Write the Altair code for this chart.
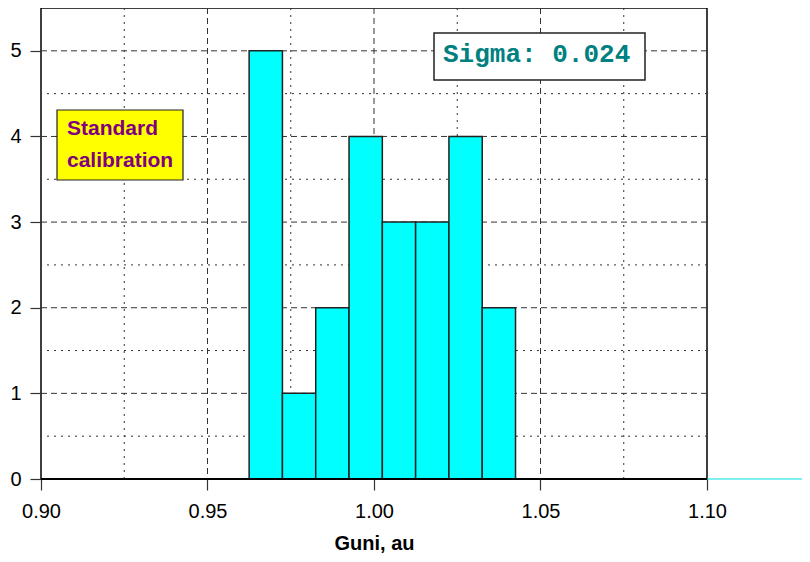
import altair as alt
import pandas as pd

# ---- data ----
bin_start = [0.9625, 0.9725, 0.9825, 0.9925, 1.0025, 1.0125, 1.0225, 1.0325]
bin_end = [0.9725, 0.9825, 0.9925, 1.0025, 1.0125, 1.0225, 1.0325, 1.0425]
counts = [5, 1, 2, 4, 3, 3, 4, 2]

x_ticks = [0.90, 0.95, 1.00, 1.05, 1.10]
x_major_grid = [0.95, 1.00, 1.05]
x_minor_grid = [0.925, 0.975, 1.025, 1.075]
y_ticks = [0, 1, 2, 3, 4, 5]
y_major_grid = [1, 2, 3, 4, 5]
y_minor_grid = [0.5, 1.5, 2.5, 3.5, 4.5]

label_box_text = ["Standard", "calibration"]
sigma_text = ["Sigma: 0.024"]
x_title = "Guni, au"

W, H = 666, 471
FONT = "Liberation Sans"

xs = alt.Scale(domain=[0.90, 1.10], nice=False, zero=False)
ys = alt.Scale(domain=[0, 5.5], nice=False)

x_axis = alt.Axis(values=x_ticks, format=".2f", grid=False, domain=False,
                  tickSize=11, tickColor="#333", tickWidth=1.2,
                  labelFontSize=20, labelFont=FONT, labelColor="#000",
                  labelPadding=11, labelFlush=False, titleFont=FONT, titleFontSize=20,
                  titleFontWeight="bold", titlePadding=12, titleColor="#000")
y_axis = alt.Axis(values=y_ticks, format="d", grid=False, domain=False,
                  tickSize=11, tickColor="#333", tickWidth=1.2,
                  labelFontSize=20, labelFont=FONT, labelColor="#000",
                  labelPadding=9, labelFlush=False)

bars_df = pd.DataFrame({"start": bin_start, "end": bin_end, "count": counts, "base": [0] * len(counts)})

grid_col = "#333333"


def xenc(field):
    return alt.X(field, scale=xs, axis=x_axis, title=x_title)


def yenc(field):
    return alt.Y(field, scale=ys, axis=y_axis, title=None)


vmaj = alt.Chart(pd.DataFrame({"v": x_major_grid})).mark_rule(
    color=grid_col, strokeWidth=1, strokeDash=[6, 4]
).encode(x=xenc("v:Q"))
vmin = alt.Chart(pd.DataFrame({"v": x_minor_grid})).mark_rule(
    color=grid_col, strokeWidth=1, strokeDash=[2, 5]
).encode(x=xenc("v:Q"))
hmaj = alt.Chart(pd.DataFrame({"v": y_major_grid})).mark_rule(
    color=grid_col, strokeWidth=1, strokeDash=[6, 4]
).encode(y=yenc("v:Q"))
hmin = alt.Chart(pd.DataFrame({"v": y_minor_grid})).mark_rule(
    color=grid_col, strokeWidth=1, strokeDash=[2, 5]
).encode(y=yenc("v:Q"))

bars = alt.Chart(bars_df).mark_rect(
    fill="#00FFFF", stroke="#222222", strokeWidth=1.5
).encode(
    x=xenc("start:Q"),
    x2="end:Q",
    y=yenc("count:Q"),
    y2="base:Q",
)

baseline = alt.Chart(pd.DataFrame({"v": [0]})).mark_rule(
    color="#000", strokeWidth=2
).encode(y=yenc("v:Q"), x=alt.value(0), x2=alt.value(W))

cyan_tail = alt.Chart(pd.DataFrame({"v": [0]})).mark_rule(
    color="#00DDDD", strokeWidth=1, clip=False
).encode(y=yenc("v:Q"), x=alt.value(W), x2=alt.value(W + 95))

one = pd.DataFrame({"k": [0]})
std_box = alt.Chart(one).mark_rect(
    fill="#FFFF00", stroke="#222222", strokeWidth=1.2
).encode(x=alt.value(16), x2=alt.value(142), y=alt.value(102), y2=alt.value(172))

std_t1 = alt.Chart(pd.DataFrame({"t": [label_box_text[0]]})).mark_text(
    align="left", baseline="alphabetic", font=FONT, fontSize=21, fontWeight="bold", color="#800080"
).encode(x=alt.value(26), y=alt.value(127), text="t:N")
std_t2 = alt.Chart(pd.DataFrame({"t": [label_box_text[1]]})).mark_text(
    align="left", baseline="alphabetic", font=FONT, fontSize=21, fontWeight="bold", color="#800080"
).encode(x=alt.value(26), y=alt.value(159), text="t:N")

sig_box = alt.Chart(one).mark_rect(
    fill="#FFFFFF", stroke="#222222", strokeWidth=1.5
).encode(x=alt.value(393), x2=alt.value(604), y=alt.value(25), y2=alt.value(72))
sig_t = alt.Chart(pd.DataFrame({"t": sigma_text})).mark_text(
    align="left", baseline="alphabetic", font="Liberation Mono", fontSize=26, fontWeight="bold",
    color="#008080"
).encode(x=alt.value(402), y=alt.value(54), text="t:N")

chart = alt.layer(
    vmin, vmaj, hmin, hmaj, bars, baseline, cyan_tail, std_box, std_t1, std_t2, sig_box, sig_t
).properties(
    width=W, height=H,
    autosize=alt.AutoSizeParams(type="none"),
    padding={"left": 33, "top": 0, "right": 95, "bottom": 75},
    background="#FFFFFF",
).configure_view(
    stroke="#000000", strokeWidth=1.5
)

chart.save("out.html", embed_options={"renderer": "svg", "actions": False})
